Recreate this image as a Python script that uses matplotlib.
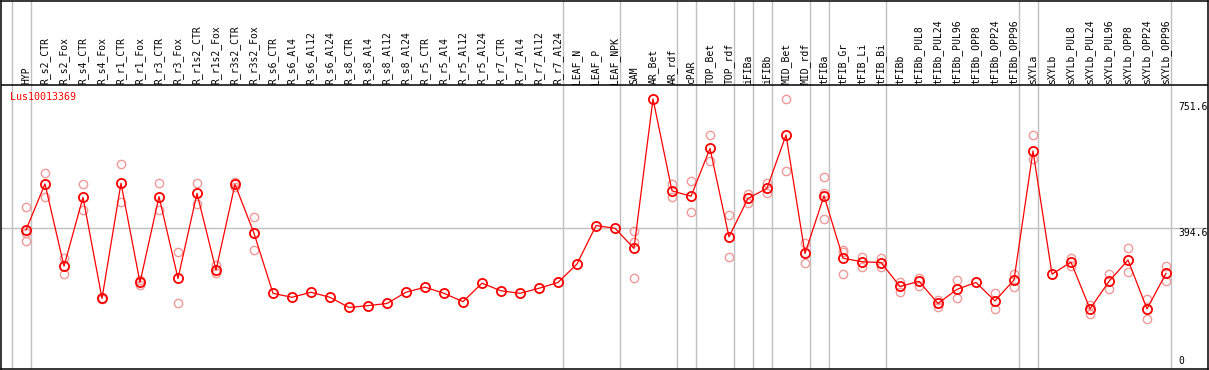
import matplotlib
matplotlib.use("Agg")
import matplotlib.pyplot as plt

# ───── Data ─────
GENE = "Lus10013369"

samples = [
    "HYP", "R_s2_CTR", "R_s2_Fox", "R_s4_CTR", "R_s4_Fox", "R_r1_CTR", "R_r1_Fox",
    "R_r3_CTR", "R_r3_Fox", "R_r1s2_CTR", "R_r1s2_Fox", "R_r3s2_CTR", "R_r3s2_Fox",
    "R_s6_CTR", "R_s6_Al4", "R_s6_Al12", "R_s6_Al24", "R_s8_CTR", "R_s8_Al4",
    "R_s8_Al12", "R_s8_Al24", "R_r5_CTR", "R_r5_Al4", "R_r5_Al12", "R_r5_Al24",
    "R_r7_CTR", "R_r7_Al4", "R_r7_Al12", "R_r7_Al24", "LEAF_N", "LEAF_P", "LEAF_NPK",
    "SAM", "AR_Bet", "AR_rdf", "cPAR", "TOP_Bet", "TOP_rdf", "iFIBa", "iFIBb",
    "MID_Bet", "MID_rdf", "tFIBa", "tFIB_Gr", "tFIB_Li", "tFIB_Bi", "tFIBb",
    "tFIBb_PUL8", "tFIBb_PUL24", "tFIBb_PUL96", "tFIBb_OPP8", "tFIBb_OPP24",
    "tFIBb_OPP96", "sXYLa", "sXYLb", "sXYLb_PUL8", "sXYLb_PUL24", "sXYLb_PUL96",
    "sXYLb_OPP8", "sXYLb_OPP24", "sXYLb_OPP96",
]

means = [
    390, 517, 290, 480, 201, 519, 245, 482, 256, 491, 279, 516, 381,
    215, 204, 218, 204, 176, 181, 187, 218, 232, 215, 192, 243, 222, 215, 229, 245,
    296, 402, 394.6,
    339, 751.6, 498, 483, 615, 371, 477, 505, 652, 325, 484, 312, 302, 300, 234,
    248, 187, 226, 245, 194, 252,
    608, 268, 301, 172, 248, 307, 172, 270,
]

replicates = [
    [454, 381, 359], [546, 482], [312, 268], [517, 445], [203, 199], [571, 466],
    [252, 238], [519, 445], [328, 187], [519, 461], [293, 270], [523, 509], [425, 336],
    [], [], [], [], [], [], [], [], [], [], [], [], [], [], [], [],
    [], [], [],
    [387, 357, 256], [], [516, 482], [525, 439], [652, 581], [430, 314], [490, 464],
    [519, 493], [751, 553], [353, 299], [537, 493, 419], [336, 330, 267], [316, 287],
    [313, 287], [247, 219],
    [258, 236], [197, 176], [251, 201], [], [215, 173], [268, 232],
    [651, 587], [], [313, 291], [184, 157], [268, 226], [340, 273], [198, 144], [290, 250],
]

# separators are drawn just after these sample numbers (0 = before the first)
group_ends = [0, 1, 29, 32, 35, 36, 38, 39, 40, 42, 43, 46, 53, 54, 61]

ref_ticks = [0, 394.6, 751.6]

# ───── Layout (pixel based) ─────
W, H = 1209, 370
PX_X0, PX_STEP = 7, 19          # sample i sits at pixel 7 + 19*i
PX_Y0, PX_SCALE = 371.2, 0.3622  # value v sits at pixel 371.2 - 0.3622*v


def vy(py):
    return (PX_Y0 - py) / PX_SCALE


def vx(px):
    return (px - PX_X0) / PX_STEP


fig = plt.figure(figsize=(W / 100, H / 100), dpi=100)
left, right, top, bottom = 1, 1208, 0.5, 369
ax = fig.add_axes([left / W, (H - bottom) / H, (right - left) / W, (bottom - top) / H])
ax.set_xlim(vx(left), vx(right))
ax.set_ylim(vy(bottom), vy(top))
ax.set_xticks([])
ax.set_yticks([])
for s in ax.spines.values():
    s.set_color("black")
    s.set_linewidth(1.1)
    s.set_zorder(5)

mono = "DejaVu Sans Mono"
grey = "#c0c0c0"

# group separators and reference line
for g in group_ends:
    ax.axvline(g + 0.24, color=grey, lw=1.0, zorder=1)
ax.axhline(ref_ticks[1], color=grey, lw=1.0, zorder=1)
# line between header and plot
ax.axhline(vy(85.3), color="black", lw=1.1, zorder=4)

x = list(range(1, len(samples) + 1))

# replicates
rx, ry = [], []
for i, reps in zip(x, replicates):
    for r in reps:
        rx.append(i)
        ry.append(r)
ax.plot(rx, ry, "o", ms=6.0, mfc="none", mec="#f09a9a", mew=1.0, ls="none", zorder=2)

# means
ax.plot(x, means, "-", color="red", lw=0.9, zorder=3)
ax.plot(x, means, "o", ms=6.6, mfc="none", mec="red", mew=1.3, ls="none", zorder=3)

# sample labels
for i, name in zip(x, samples):
    ax.text(i, vy(83.5), name, rotation=90, ha="center", va="bottom",
            family=mono, fontsize=7, color="black")

ax.text(vx(10), vy(96.5), GENE, ha="left", va="center", family=mono, fontsize=7.2, color="red")

# right side value labels
label_x = vx(1178)
ax.text(label_x, vy(107), f"{ref_ticks[2]:g}", ha="left", va="center", family=mono, fontsize=7)
ax.text(label_x, vy(233), f"{ref_ticks[1]:g}", ha="left", va="center", family=mono, fontsize=7)
ax.text(label_x, vy(361.5), f"{ref_ticks[0]:g}", ha="left", va="center", family=mono, fontsize=7)

fig.savefig("out.png", dpi=100)
